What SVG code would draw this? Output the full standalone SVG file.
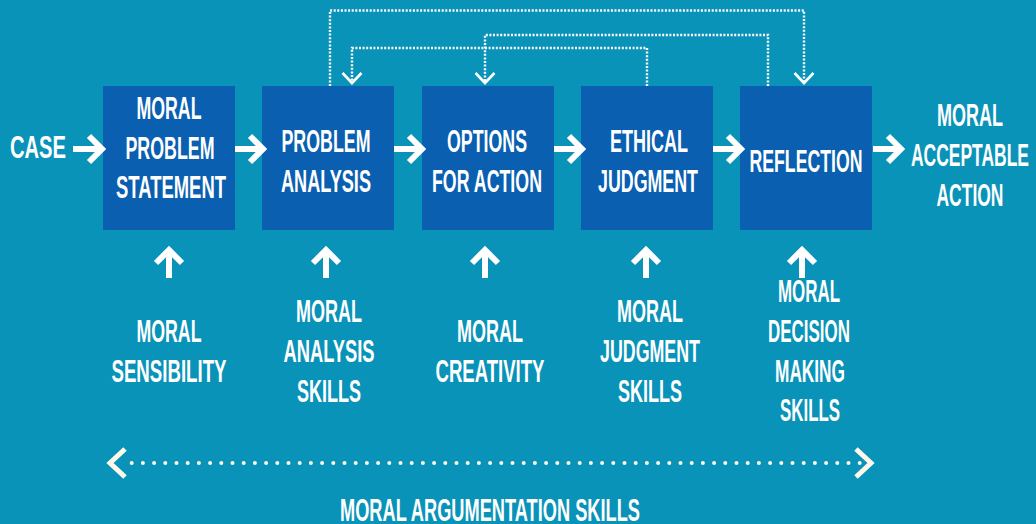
<svg xmlns="http://www.w3.org/2000/svg" width="1036" height="524" viewBox="0 0 1036 524">
<style>
.bg{fill:#0993b8}
.box{fill:#0a5fb0}
.t{font-family:"Liberation Sans Narrow","Liberation Sans",sans-serif;font-weight:bold;font-size:31px;fill:#ffffff;text-anchor:middle}
.arr{fill:none;stroke:#ffffff;stroke-width:6;stroke-linejoin:miter;stroke-linecap:butt}
.dot{fill:none;stroke:#ffffff;stroke-width:2.4;stroke-dasharray:2 1.6}
.chev{fill:none;stroke:#ffffff;stroke-width:2.6}
.bdot{fill:none;stroke:#fff8ea;stroke-width:4;stroke-linecap:round;stroke-dasharray:0 11.2}
.bchev{fill:none;stroke:#fff8ea;stroke-width:5;stroke-linejoin:miter}
</style>
<rect class="bg" x="0" y="0" width="1036" height="524"/>

<g id="case"><text class="t" x="38" y="158" font-size="34" textLength="56" lengthAdjust="spacingAndGlyphs">CASE</text></g>

<g id="moral-problem-statement">
<rect class="box" x="103" y="86" width="132" height="144"/>
<text class="t" x="169" y="119" textLength="65" lengthAdjust="spacingAndGlyphs">MORAL</text>
<text class="t" x="170" y="159" textLength="89" lengthAdjust="spacingAndGlyphs">PROBLEM</text>
<text class="t" x="171" y="198" textLength="110" lengthAdjust="spacingAndGlyphs">STATEMENT</text>
</g>
<g id="problem-analysis">
<rect class="box" x="262" y="86" width="132" height="144"/>
<text class="t" x="326" y="152" textLength="89" lengthAdjust="spacingAndGlyphs">PROBLEM</text>
<text class="t" x="326" y="192" textLength="90" lengthAdjust="spacingAndGlyphs">ANALYSIS</text>
</g>
<g id="options-for-action">
<rect class="box" x="422" y="86" width="132" height="144"/>
<text class="t" x="487" y="152" textLength="80" lengthAdjust="spacingAndGlyphs">OPTIONS</text>
<text class="t" x="487" y="192" textLength="110" lengthAdjust="spacingAndGlyphs">FOR ACTION</text>
</g>
<g id="ethical-judgment">
<rect class="box" x="581" y="86" width="132" height="144"/>
<text class="t" x="649" y="152" textLength="78" lengthAdjust="spacingAndGlyphs">ETHICAL</text>
<text class="t" x="648" y="192" textLength="100" lengthAdjust="spacingAndGlyphs">JUDGMENT</text>
</g>
<g id="reflection">
<rect class="box" x="740" y="86" width="132" height="144"/>
<text class="t" x="806" y="172" textLength="113" lengthAdjust="spacingAndGlyphs">REFLECTION</text>
</g>
<g id="moral-acceptable-action">
<text class="t" x="970" y="126" textLength="66" lengthAdjust="spacingAndGlyphs">MORAL</text>
<text class="t" x="970" y="166" textLength="118" lengthAdjust="spacingAndGlyphs">ACCEPTABLE</text>
<text class="t" x="970" y="206" textLength="67" lengthAdjust="spacingAndGlyphs">ACTION</text>
</g>

<g id="moral-sensibility">
<text class="t" x="169" y="342" textLength="65" lengthAdjust="spacingAndGlyphs">MORAL</text>
<text class="t" x="169" y="382" textLength="115" lengthAdjust="spacingAndGlyphs">SENSIBILITY</text>
</g>
<g id="moral-analysis-skills">
<text class="t" x="329" y="322" textLength="66" lengthAdjust="spacingAndGlyphs">MORAL</text>
<text class="t" x="329" y="362" textLength="91" lengthAdjust="spacingAndGlyphs">ANALYSIS</text>
<text class="t" x="329" y="402" textLength="64" lengthAdjust="spacingAndGlyphs">SKILLS</text>
</g>
<g id="moral-creativity">
<text class="t" x="490" y="342" textLength="66" lengthAdjust="spacingAndGlyphs">MORAL</text>
<text class="t" x="490" y="382" textLength="109" lengthAdjust="spacingAndGlyphs">CREATIVITY</text>
</g>
<g id="moral-judgment-skills">
<text class="t" x="650" y="322" textLength="66" lengthAdjust="spacingAndGlyphs">MORAL</text>
<text class="t" x="650" y="362" textLength="100" lengthAdjust="spacingAndGlyphs">JUDGMENT</text>
<text class="t" x="650" y="402" textLength="64" lengthAdjust="spacingAndGlyphs">SKILLS</text>
</g>
<g id="moral-decision-making-skills">
<text class="t" x="809" y="302" textLength="62" lengthAdjust="spacingAndGlyphs">MORAL</text>
<text class="t" x="809" y="342" textLength="82" lengthAdjust="spacingAndGlyphs">DECISION</text>
<text class="t" x="810" y="382" textLength="70" lengthAdjust="spacingAndGlyphs">MAKING</text>
<text class="t" x="810" y="421" textLength="60" lengthAdjust="spacingAndGlyphs">SKILLS</text>
</g>
<g id="moral-argumentation-skills">
<text class="t" x="490" y="521" textLength="300" lengthAdjust="spacingAndGlyphs">MORAL ARGUMENTATION SKILLS</text>
</g>

<g id="connectors">
<!-- flow arrows -->
<path class="arr" d="M73 149H101M89 136L102 149L89 162"/>
<path class="arr" d="M235 149H262M250 136L263 149L250 162"/>
<path class="arr" d="M394 149H421M409 136L422 149L409 162"/>
<path class="arr" d="M554 149H581M569 136L582 149L569 162"/>
<path class="arr" d="M713 149H740M728 136L741 149L728 162"/>
<path class="arr" d="M873 149H900M888 136L901 149L888 162"/>
<!-- skill arrows -->
<path class="arr" d="M169 278V251M156 263L169 250L182 263"/>
<path class="arr" d="M326 278V251M313 263L326 250L339 263"/>
<path class="arr" d="M485 278V251M472 263L485 250L498 263"/>
<path class="arr" d="M646 278V251M633 263L646 250L659 263"/>
<path class="arr" d="M802 278V251M789 263L802 250L815 263"/>
<!-- feedback loops -->
<path class="dot" d="M330 86V10.5H804V82"/>
<polyline class="chev" points="794.5,73 804,83 813.5,73"/>
<path class="dot" d="M768 86V35H485V82"/>
<polyline class="chev" points="475.5,73 485,83 494.5,73"/>
<path class="dot" d="M647 86V48H352V82"/>
<polyline class="chev" points="342.5,73 352,83 361.5,73"/>
<!-- argumentation span -->
<path class="bdot" d="M131.7 463H866"/>
<polyline class="bchev" points="125,449 110,463 125,477"/>
<polyline class="bchev" points="856,449 871,463 856,477"/>
</g>
</svg>
